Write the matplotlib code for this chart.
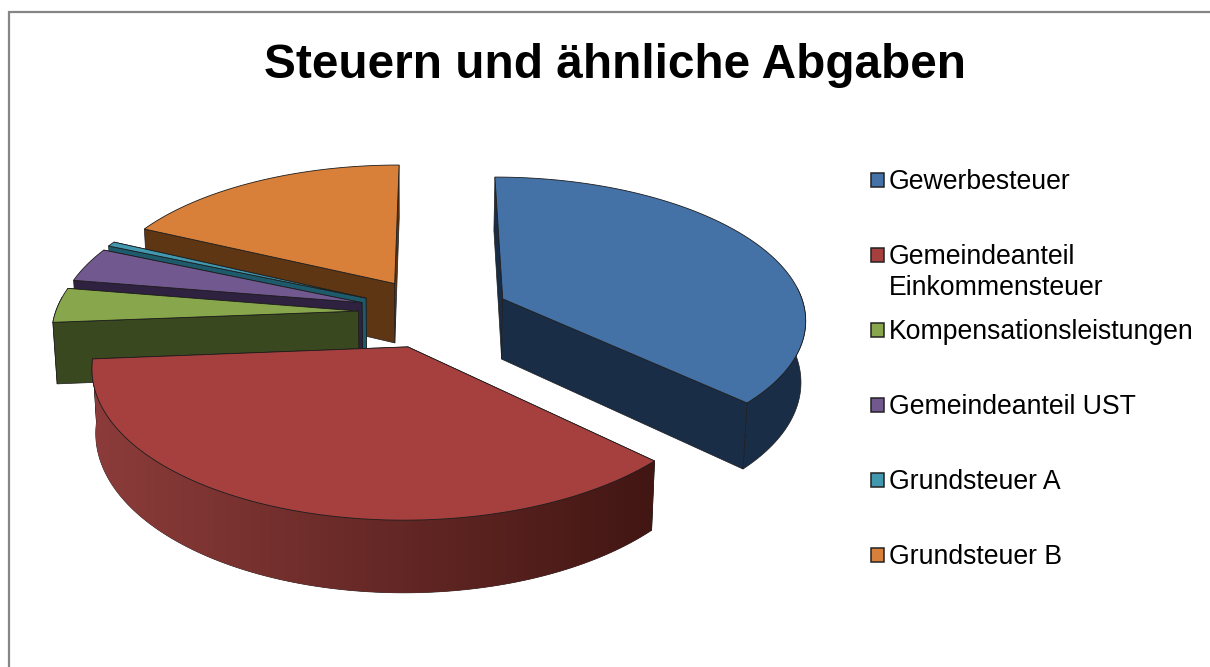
import numpy as np
import matplotlib
matplotlib.use('Agg')
import matplotlib.pyplot as plt
from matplotlib.colors import LinearSegmentedColormap

title = 'Steuern und ähnliche Abgaben'
categories = ['Gewerbesteuer', 'Gemeindeanteil\nEinkommensteuer', 'Kompensationsleistungen',
              'Gemeindeanteil UST', 'Grundsteuer A', 'Grundsteuer B']
shares = [37.1, 36.6, 3.9, 3.9, 0.55, 17.9]

top_colors = ['#4471a6', '#a5403e', '#88a64b', '#71588f', '#4198af', '#d8803a']
wall_left = ['#1a2d47', '#8c3c3a', '#39481f', '#2f2140', '#1d5a6b', '#5f3614']
wall_right = ['#1a2d47', '#421613', '#39481f', '#2f2140', '#1d5a6b', '#5f3614']
face_colors = ['#1a2d47', '#4a1a18', '#39481f', '#2f2140', '#1d5a6b', '#5f3614']
draw_order = [5, 4, 3, 2, 0, 1]

# projection of the tilted disc onto the picture
cx, cy = 434, 312.6
rx, ry = 303, 141
persp = 0.13
explode = 0.25
depth = 61
shrink = 0.988
x_mid = 410
line = '#1c1c1c'


def project(u, v, bottom=False):
    w = 1 + persp * v
    sx = cx + rx * u / w
    sy = cy - ry * v / w
    if bottom:
        sx = x_mid + (sx - x_mid) * shrink
        sy = sy + depth / w
    return sx, sy


fig = plt.figure(figsize=(12.1, 6.67), dpi=100)
ax = fig.add_axes([0, 0, 1, 1])
ax.axis('off')

ax.plot([9, 9, 1210], [667, 12, 12], color='#868686', lw=1.6, solid_joinstyle='miter')

edges = np.cumsum([0] + shares) / sum(shares) * 2 * np.pi
z = 2


def cut_face(a, ou, ov, color):
    global z
    ex, ey = project(ou + np.sin(a), ov + np.cos(a))
    fx, fy = project(ou + np.sin(a), ov + np.cos(a), True)
    ax0, ay0 = project(ou, ov)
    bx0, by0 = project(ou, ov, True)
    z += 1
    ax.fill([ax0, ex, fx, bx0], [ay0, ey, fy, by0], facecolor=color,
            edgecolor=line, lw=0.5, zorder=z)


for i in draw_order:
    a0, a1 = edges[i], edges[i + 1]
    mid = (a0 + a1) / 2
    ou, ov = explode * np.sin(mid), explode * np.cos(mid)
    ang = np.linspace(a0, a1, 120)
    u = ou + np.sin(ang)
    v = ov + np.cos(ang)

    # cut faces turned away from the viewer go under the wall
    a0_front = np.sin(a0) < 0
    a1_front = np.sin(a1) > 0
    if not a0_front:
        cut_face(a0, ou, ov, face_colors[i])
    if not a1_front:
        cut_face(a1, ou, ov, face_colors[i])

    # outer wall, only the part that faces the viewer
    tx, ty = project(u, v)
    lx, ly = project(u, v, True)
    seen = np.cos(ang) < 0.1
    if seen.sum() > 1:
        wx, wy = tx[seen], ty[seen]
        bx, by = lx[seen], ly[seen]
        z += 1
        wall = ax.fill(np.r_[wx, bx[::-1]], np.r_[wy, by[::-1]], facecolor=wall_left[i],
                       edgecolor=line, lw=0.5, zorder=z)[0]
        if wall_left[i] != wall_right[i]:
            cmap = LinearSegmentedColormap.from_list('wall', [wall_left[i], wall_right[i]])
            z += 1
            img = ax.imshow(np.linspace(0, 1, 256)[None, :], cmap=cmap, aspect='auto', zorder=z,
                            extent=[wx.min(), wx.max(), by.max(), wy.min()],
                            interpolation='bilinear')
            img.set_clip_path(wall)

    if a0_front:
        cut_face(a0, ou, ov, face_colors[i])
    if a1_front:
        cut_face(a1, ou, ov, face_colors[i])

    # top
    ax0, ay0 = project(ou, ov)
    z += 1
    ax.fill(np.r_[ax0, tx], np.r_[ay0, ty], facecolor=top_colors[i], edgecolor=line, lw=0.6,
            joinstyle='round', zorder=z)

z += 1
ax.text(615, 65, title, ha='center', va='center', fontsize=34.4, fontweight='bold',
        family='Liberation Sans', color='black', zorder=z)

legend_y = [180, 255, 330, 405, 480, 555]
for i, name in enumerate(categories):
    y = legend_y[i]
    ax.fill([870.5, 884, 884, 870.5], [y - 7, y - 7, y + 7, y + 7], facecolor=top_colors[i],
            edgecolor='#222222', lw=1.1, zorder=z)
    ax.text(889, y - 11, name, ha='left', va='top', fontsize=19.2, family='Liberation Sans',
            color='black', linespacing=1.27, zorder=z)

ax.set_xlim(0, 1210)
ax.set_ylim(667, 0)
fig.savefig('out.png', dpi=100)
